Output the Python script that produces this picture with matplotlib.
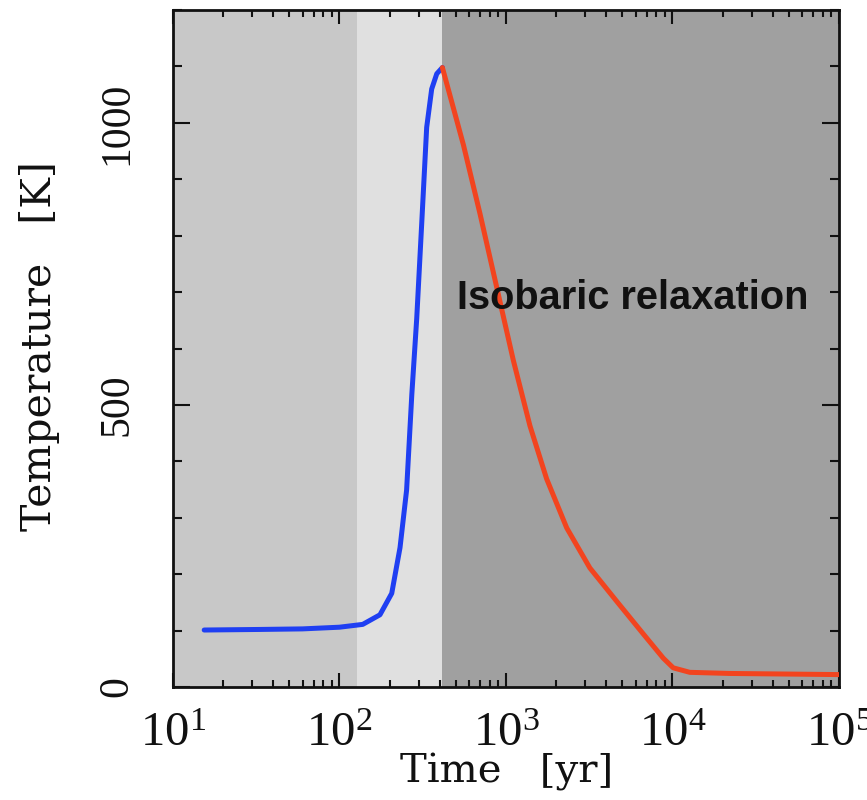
"""
Temperature history: heating up to the peak, then isobaric relaxation.
"""

import matplotlib

matplotlib.use("Agg")
import matplotlib.pyplot as plt
from matplotlib.ticker import LogLocator, MultipleLocator, NullFormatter

# Heating phase (blue)
heat_time = [15.4, 33, 60, 100, 138, 175, 206, 231, 253, 272, 291, 312, 334, 358, 384, 415]
heat_temp = [101, 102, 103, 106, 111, 128, 166, 247, 349, 519, 653, 823, 992, 1060, 1087, 1098]

# Isobaric relaxation (red)
relax_time = [415, 555, 698, 879, 1107, 1393, 1754, 2316, 3190, 4620, 6680, 8810,
              10100, 12700, 22100, 100000]
relax_temp = [1098, 961, 839, 709, 579, 463, 369, 282, 211, 152, 94, 51, 34, 26, 24, 22]

# Shaded phases: (start, end, colour)
phase_edges = [10, 128, 415, 100000]
phase_colors = ["#c8c8c8", "#e0e0e0", "#a0a0a0"]

x_ticks = [1e1, 1e2, 1e3, 1e4, 1e5]
x_tick_labels = ["$10^{1}$", "$10^{2}$", "$10^{3}$", "$10^{4}$", "$10^{5}$"]
y_ticks = [0, 500, 1000]

# serif tick labels, mathtext included
plt.rcParams["mathtext.fontset"] = "custom"
plt.rcParams["mathtext.rm"] = "Liberation Serif"
plt.rcParams["mathtext.it"] = "Liberation Serif:italic"
plt.rcParams["mathtext.bf"] = "Liberation Serif:bold"


def plot():
    fig = plt.figure(figsize=(8.67, 8.0), dpi=100)
    ax = fig.add_axes([0.1995, 0.14125, 0.7682, 0.84625])

    for i, color in enumerate(phase_colors):
        ax.axvspan(phase_edges[i], phase_edges[i + 1], color=color, lw=0, zorder=0)

    ax.plot(heat_time, heat_temp, color="#1f3ff2", lw=3.6, zorder=5,
            solid_capstyle="round", solid_joinstyle="round")
    ax.plot(relax_time, relax_temp, color="#f2441f", lw=3.6, zorder=5,
            solid_capstyle="round", solid_joinstyle="round")

    ax.text(510, 690, "Isobaric relaxation", fontsize=28.6, fontweight="bold",
            family="Liberation Sans", color="#111111", ha="left", va="center", zorder=6)

    ax.set_xscale("log")
    ax.set_xlim(10, 1e5)
    ax.set_ylim(0, 1200)

    ax.set_xticks(x_ticks)
    ax.set_xticklabels(x_tick_labels)
    ax.xaxis.set_minor_locator(LogLocator(base=10, subs=range(2, 10)))
    ax.xaxis.set_minor_formatter(NullFormatter())
    ax.set_yticks(y_ticks)
    ax.yaxis.set_minor_locator(MultipleLocator(100))

    ax.tick_params(which="both", direction="in", top=True, right=True, width=1.5,
                   color="#111111")
    ax.tick_params(axis="x", which="major", length=10, pad=15)
    ax.tick_params(axis="x", which="minor", length=5)
    ax.tick_params(axis="y", which="major", length=12, pad=26, labelrotation=90)
    ax.tick_params(axis="y", which="minor", length=6.5)

    for lab in ax.get_xticklabels():
        lab.set_fontsize(35)
        lab.set_color("#111111")
    for lab in ax.get_yticklabels():
        lab.set_family("Liberation Serif")
        lab.set_fontsize(30)
        lab.set_color("#111111")
        lab.set_verticalalignment("center")

    for spine in ax.spines.values():
        spine.set_linewidth(2.0)
        spine.set_color("#111111")

    ax.set_xlabel("Time   [yr]", family="DejaVu Serif", fontsize=29, color="#111111")
    ax.set_ylabel("Temperature   [K]", family="DejaVu Serif", fontsize=29.5, color="#111111")
    ax.xaxis.set_label_coords(0.5008, -0.097)
    ax.yaxis.set_label_coords(-0.17, 0.504)

    fig.savefig("out.png", dpi=100)


if __name__ == "__main__":
    plot()
